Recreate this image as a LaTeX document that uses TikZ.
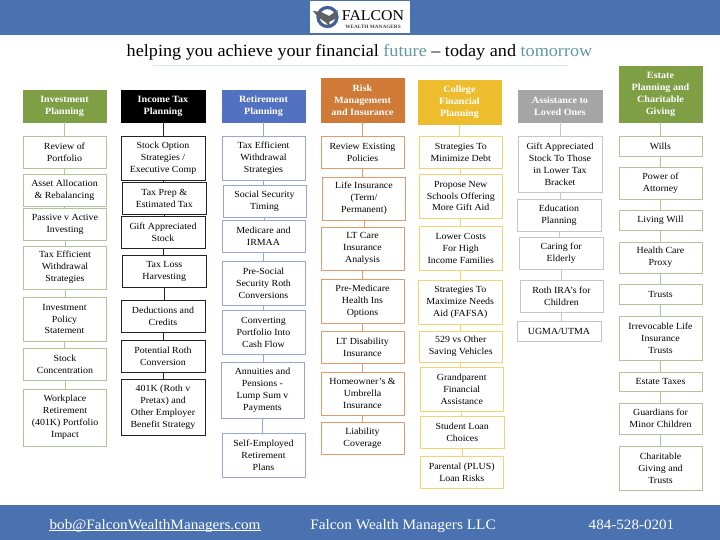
\documentclass[tikz,border=0pt]{standalone}
\usepackage{fontspec}
\setmainfont{Liberation Serif}[FakeStretch=1.06]
\definecolor{bann}{HTML}{4A72B0}
\definecolor{gA}{HTML}{7F9F45}\definecolor{gB}{HTML}{B0C595}
\definecolor{kA}{HTML}{000000}\definecolor{kB}{HTML}{222222}
\definecolor{bA}{HTML}{5271C0}\definecolor{bB}{HTML}{94A7D6}
\definecolor{oA}{HTML}{CF7A36}\definecolor{oB}{HTML}{E09C6C}
\definecolor{yA}{HTML}{EDBD2E}\definecolor{yB}{HTML}{F5D470}
\definecolor{hA}{HTML}{A5A5A5}\definecolor{hB}{HTML}{C6C6C6}
\definecolor{tealt}{HTML}{5E9AA0}
\definecolor{ringc}{HTML}{3F6296}
\newcommand\bbx[7]{\node[#6,minimum width={#4bp-#2bp},minimum height={#5bp-#3bp}] (#1) at ({(#2+#4)/2},{(#3+#5)/2}) {#7};}
\newcommand\lnk[3]{\draw[#1] (#2.south) -- (#2.south |- #3.north);}
\begin{document}
\begin{tikzpicture}[x=1bp,y=-1bp,
  hd/.style={draw=#1,fill=#1,line width=0.9pt,text=white,align=center,inner sep=0pt,font=\fontsize{9.6}{12}\selectfont\bfseries},
  bx/.style={draw=#1,fill=white,line width=0.9pt,text=black,align=center,inner sep=0pt,font=\fontsize{9.4}{12}\selectfont},
  cn/.style={draw=#1,line width=0.9pt}]
\useasboundingbox (0,0) rectangle (720,540);
\fill[white] (0,0) rectangle (720,540);
\node[fill=bann,minimum width=720bp,minimum height=35bp,inner sep=0pt] (top) at (360,17.5) {};
\node[fill=bann,minimum width=720bp,minimum height=35bp,inner sep=0pt] (bot) at (360,522.5) {};
% logo
\node[fill=white,minimum width=100bp,minimum height=32bp,inner sep=0pt] (logo) at (360,17) {};
\draw[line width=3.2pt,draw=ringc] (327.5,17) circle (9.5);
\fill[gray!75!black] (313,11) -- (321,12) -- (329,16) -- (338,10) -- (335,19) -- (329,22) -- (331,28) -- (325,22) -- (318,17) -- cycle;
\node[inner sep=0pt,font=\fontsize{15}{15}\selectfont] (fal) at (373,15.5) {FALCON};
\node[inner sep=0pt,font=\fontsize{5}{5}\selectfont\bfseries,text=black!75] (wm) at (373,26.5) {WEALTH MANAGERS};
% title
\node[inner sep=0pt,anchor=base,font=\fontsize{17.2}{20}\selectfont] (title) at (359.5,56.5) {helping you achieve your financial \textcolor{tealt}{future} – today and \textcolor{tealt}{tomorrow}};
\coordinate (ra) at (153,65.5);\coordinate (rb) at (568,65.5);
\draw[line width=0.8pt,draw=tealt!25] (ra) -- (rb);
% footer
\node[inner sep=0pt,anchor=base,text=white,font=\fontsize{14.4}{15}\selectfont] (mail) at (155,529) {bob@FalconWealthManagers.com};
\draw[white,line width=0.6pt] ([yshift=-1.6bp]mail.base west) -- ([yshift=-1.6bp]mail.base east);
\node[inner sep=0pt,anchor=base,text=white,font=\fontsize{14.5}{15}\selectfont] (co) at (403,529) {Falcon Wealth Managers LLC};
\node[inner sep=0pt,anchor=base,text=white,font=\fontsize{14.3}{15}\selectfont] (ph) at (631.5,529) {484-528-0201};
% column 1
\bbx{a0}{23}{90}{106}{122}{hd=gA}{Investment\\Planning}
\bbx{a1}{23}{136}{106}{168}{bx=gB}{Review of\\Portfolio}
\bbx{a2}{23}{174}{106}{206}{bx=gB}{Asset Allocation\\\& Rebalancing}
\bbx{a3}{23.5}{208}{106.5}{240}{bx=gB}{Passive v Active\\Investing}
\bbx{a4}{23.5}{246}{106.5}{289}{bx=gB}{Tax Efficient\\Withdrawal\\Strategies}
\bbx{a5}{23}{297}{106}{341}{bx=gB}{Investment\\Policy\\Statement}
\bbx{a6}{23.5}{348}{106.5}{380}{bx=gB}{Stock\\Concentration}
\bbx{a7}{23.5}{389}{106.5}{446}{bx=gB}{Workplace\\Retirement\\(401K) Portfolio\\Impact}
% column 2
\bbx{b0}{121}{90}{205}{122}{hd=kA}{Income Tax\\Planning}
\bbx{b1}{121}{136}{205}{180}{bx=kB}{Stock Option\\Strategies /\\Executive Comp}
\bbx{b2}{122.5}{182}{206}{214}{bx=kB}{Tax Prep \&\\Estimated Tax}
\bbx{b3}{121}{216}{205}{248}{bx=kB}{Gift Appreciated\\Stock}
\bbx{b4}{122.5}{255}{206}{287}{bx=kB}{Tax Loss\\Harvesting}
\bbx{b5}{121}{300}{205}{332}{bx=kB}{Deductions and\\Credits}
\bbx{b6}{121}{340}{205}{372}{bx=kB}{Potential Roth\\Conversion}
\bbx{b7}{121}{379}{205}{435}{bx=kB}{401K (Roth v\\Pretax) and\\Other Employer\\Benefit Strategy}
% column 3
\bbx{c0}{222}{90}{305}{122}{hd=bA}{Retirement\\Planning}
\bbx{c1}{222}{136}{305}{180}{bx=bB}{Tax Efficient\\Withdrawal\\Strategies}
\bbx{c2}{223}{185}{306}{217}{bx=bB}{Social Security\\Timing}
\bbx{c3}{222}{220}{305}{252}{bx=bB}{Medicare and\\IRMAA}
\bbx{c4}{222}{261}{305}{305}{bx=bB}{Pre-Social\\Security Roth\\Conversions}
\bbx{c5}{222}{310}{305}{354}{bx=bB}{Converting\\Portfolio Into\\Cash Flow}
\bbx{c6}{221}{362}{304}{418}{bx=bB}{Annuities and\\Pensions -\\Lump Sum v\\Payments}
\bbx{c7}{222}{433}{305}{477}{bx=bB}{Self-Employed\\Retirement\\Plans}
% column 4
\bbx{d0}{321}{78}{404}{122}{hd=oA}{Risk\\Management\\and Insurance}
\bbx{d1}{321}{136}{404}{168}{bx=oB}{Review Existing\\Policies}
\bbx{d2}{322.5}{177}{405.5}{220}{bx=oB}{Life Insurance\\(Term/\\Permanent)}
\bbx{d3}{321}{227}{404}{270}{bx=oB}{LT Care\\Insurance\\Analysis}
\bbx{d4}{321}{279}{404}{323}{bx=oB}{Pre-Medicare\\Health Ins\\Options}
\bbx{d5}{321}{331}{404}{363}{bx=oB}{LT Disability\\Insurance}
\bbx{d6}{321}{372}{404}{415}{bx=oB}{Homeowner's \&\\Umbrella\\Insurance}
\bbx{d7}{321}{422}{404}{454}{bx=oB}{Liability\\Coverage}
% column 5
\bbx{e0}{418}{80}{501}{124}{hd=yA}{College\\Financial\\Planning}
\bbx{e1}{419}{136}{502.5}{168}{bx=yB}{Strategies To\\Minimize Debt}
\bbx{e2}{419}{174}{502.5}{218}{bx=yB}{Propose New\\Schools Offering\\More Gift Aid}
\bbx{e3}{419}{226}{502.5}{270}{bx=yB}{Lower Costs\\For High\\Income Families}
\bbx{e4}{418.5}{280}{502}{324}{bx=yB}{Strategies To\\Maximize Needs\\Aid (FAFSA)}
\bbx{e5}{419}{331}{502.5}{362}{bx=yB}{529 vs Other\\Saving Vehicles}
\bbx{e6}{420}{367}{503.5}{411}{bx=yB}{Grandparent\\Financial\\Assistance}
\bbx{e7}{420.5}{416}{504}{448}{bx=yB}{Student Loan\\Choices}
\bbx{e8}{420}{456}{503.5}{488}{bx=yB}{Parental (PLUS)\\Loan Risks}
% column 6
\bbx{f0}{518}{90}{602}{122}{hd=hA}{Assistance to\\Loved Ones}
\bbx{f1}{518}{136}{602}{192}{bx=hB}{Gift Appreciated\\Stock To Those\\in Lower Tax\\Bracket}
\bbx{f2}{517}{199}{601}{231}{bx=hB}{Education\\Planning}
\bbx{f3}{519.5}{237}{603}{269}{bx=hB}{Caring for\\Elderly}
\bbx{f4}{520}{280}{603}{312}{bx=hB}{Roth IRA's for\\Children}
\bbx{f5}{517}{321}{601}{341}{bx=hB}{UGMA/UTMA}
% column 7
\bbx{g0}{619}{66}{702}{122}{hd=gA}{Estate\\Planning and\\Charitable\\Giving}
\bbx{g1}{619}{136}{702}{156}{bx=gB}{Wills}
\bbx{g2}{619}{167}{702}{199}{bx=gB}{Power of\\Attorney}
\bbx{g3}{619}{210}{702}{230}{bx=gB}{Living Will}
\bbx{g4}{619}{242}{702}{273}{bx=gB}{Health Care\\Proxy}
\bbx{g5}{619}{284}{702}{304}{bx=gB}{Trusts}
\bbx{g6}{619}{316}{702}{360}{bx=gB}{Irrevocable Life\\Insurance\\Trusts}
\bbx{g7}{619}{372}{702}{391}{bx=gB}{Estate Taxes}
\bbx{g8}{619}{403}{702}{434}{bx=gB}{Guardians for\\Minor Children}
\bbx{g9}{619}{446}{702}{490}{bx=gB}{Charitable\\Giving and\\Trusts}
% connectors
\foreach \i/\j in {0/1,1/2,2/3,3/4,4/5,5/6,6/7}{
 \lnk{cn=gB}{a\i}{a\j}\lnk{cn=kB}{b\i}{b\j}\lnk{cn=bB}{c\i}{c\j}\lnk{cn=oB}{d\i}{d\j}\lnk{cn=yB}{e\i}{e\j}\lnk{cn=gB}{g\i}{g\j}}
\lnk{cn=yB}{e7}{e8}\lnk{cn=gB}{g7}{g8}\lnk{cn=gB}{g8}{g9}
\foreach \i/\j in {0/1,1/2,2/3,3/4,4/5}{\lnk{cn=hB}{f\i}{f\j}}
\end{tikzpicture}
\end{document}
